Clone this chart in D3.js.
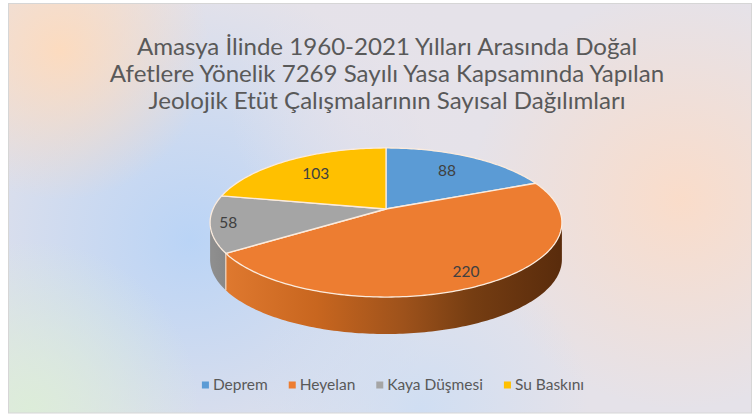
<!DOCTYPE html>
<html><head><meta charset="utf-8">
<script src="https://cdn.jsdelivr.net/npm/d3@7"></script>
<style>html,body{margin:0;padding:0;background:#fff;}svg{display:block;}</style>
</head><body>
<svg id="c" width="752" height="416"></svg>
<script>
// ---- data ----
const categories = ["Deprem", "Heyelan", "Kaya Düşmesi", "Su Baskını"];
const values = [88, 220, 58, 103];
const colors = ["#5B9BD5", "#ED7D31", "#A5A5A5", "#FFC000"];
const titleLines = [
  "Amasya İlinde 1960-2021 Yılları Arasında Doğal",
  "Afetlere Yönelik 7269 Sayılı Yasa Kapsamında Yapılan",
  "Jeolojik Etüt Çalışmalarının Sayısal Dağılımları"
];
const labelRadius = [0.7, 0.85, 0.9, 0.7];

// ---- layout ----
const W = 752, H = 416;
const svg = d3.select("#c");
const defs = svg.append("defs");
const FONT = "Lato, 'Open Sans', sans-serif";

// background
svg.append("rect").attr("x", 0).attr("y", 0).attr("width", W).attr("height", H).attr("fill", "#ffffff");
const bgClip = defs.append("clipPath").attr("id", "bgclip");
bgClip.append("rect").attr("x", 8).attr("y", 3).attr("width", W - 8).attr("height", 410);
const bg = svg.append("g").attr("clip-path", "url(#bgclip)");
bg.append("rect").attr("x", 8).attr("y", 3).attr("width", W - 8).attr("height", 410).attr("fill", "#E5E2E9");
const blobs = [
  {id: "b1", cx: 190, cy: 240, r: 260, c: "#BAD4F6", o: 1},
  {id: "b2", cx: 60, cy: 50, r: 150, c: "#FCDBBF", o: 1},
  {id: "b3", cx: 680, cy: 200, r: 210, c: "#FBDCC8", o: 0.95},
  {id: "b4", cx: 30, cy: 410, r: 170, c: "#DCEDD8", o: 0.95},
  {id: "b5", cx: 420, cy: 410, r: 170, c: "#CADDF5", o: 0.8},
  {id: "b6", cx: 360, cy: 110, r: 130, c: "#E6E2EA", o: 0.7}
];
blobs.forEach(b => {
  const g = defs.append("radialGradient").attr("id", b.id).attr("gradientUnits", "userSpaceOnUse")
    .attr("cx", b.cx).attr("cy", b.cy).attr("r", b.r);
  g.append("stop").attr("offset", 0).attr("stop-color", b.c).attr("stop-opacity", b.o);
  g.append("stop").attr("offset", 1).attr("stop-color", b.c).attr("stop-opacity", 0);
  bg.append("rect").attr("x", 8).attr("y", 3).attr("width", W - 8).attr("height", 410).attr("fill", `url(#${b.id})`);
});
svg.append("rect").attr("x", 8.5).attr("y", 3.5).attr("width", W - 9).attr("height", 409.5)
  .attr("fill", "none").attr("stroke", "#D6D6D6").attr("stroke-width", 1);

// title
titleLines.forEach((t, i) => {
  svg.append("text").attr("text-anchor", "middle").attr("fill", "#595959")
    .attr("font-family", FONT).attr("font-size", 22.5)
    .attr("x", 387).attr("y", 55 + i * 27).text(t);
});
svg.selectAll("text").each(function() {
  const w = this.getComputedTextLength();
  d3.select(this).attr("textLength", w * 1.07).attr("lengthAdjust", "spacingAndGlyphs");
});

// 3D pie projection
const cx = 386, cy = 209, A = 173, B = 72.1, P = 0.181, D = 37;
function proj(theta, r, dy) {
  const s = Math.sin(theta), c = Math.cos(theta);
  const w = 1 + P * r * c;
  return [cx + A * r * s / w, cy - B * r * c / w + (dy || 0)];
}
const pie = d3.pie().sort(null).value(d => d).startAngle(0).endAngle(2 * Math.PI);
const arcs = pie(values);
function rimPoints(a0, a1, dy) {
  const n = Math.max(2, Math.ceil((a1 - a0) / (Math.PI / 180)));
  return d3.range(n + 1).map(i => proj(a0 + (a1 - a0) * i / n, 1, dy));
}
const line = d3.line();

// wall gradients
const gO = defs.append("linearGradient").attr("id", "wallO").attr("gradientUnits", "userSpaceOnUse")
  .attr("x1", cx - A).attr("y1", 0).attr("x2", cx + A).attr("y2", 0);
[[0, "#E27B31"], [0.3, "#C8661F"], [0.55, "#9E521B"], [0.75, "#753D12"], [1, "#5A2C0C"]]
  .forEach(s => gO.append("stop").attr("offset", s[0]).attr("stop-color", s[1]));
const gG = defs.append("linearGradient").attr("id", "wallG").attr("gradientUnits", "userSpaceOnUse")
  .attr("x1", cx - A).attr("y1", 0).attr("x2", cx - A + 40).attr("y2", 0);
[[0, "#8E8E8E"], [1, "#7C7C7C"]].forEach(s => gG.append("stop").attr("offset", s[0]).attr("stop-color", s[1]));
const wallFill = ["#3E75A8", "url(#wallO)", "url(#wallG)", "#C29100"];

const th1 = Math.acos(-P), th2 = 2 * Math.PI - Math.acos(-P);
const walls = svg.append("g");
arcs.forEach((a, i) => {
  const s = Math.max(a.startAngle, th1), e = Math.min(a.endAngle, th2);
  if (e <= s) return;
  const top = rimPoints(s, e, 0), bot = rimPoints(s, e, D).reverse();
  walls.append("path").attr("d", line(top.concat(bot)) + "Z").attr("fill", wallFill[i]);
});
arcs.forEach(a => {
  const t = a.startAngle;
  if (t > th1 && t < th2) {
    const p0 = proj(t, 1, 0), p1 = proj(t, 1, D);
    walls.append("line").attr("x1", p0[0]).attr("y1", p0[1]).attr("x2", p1[0]).attr("y2", p1[1])
      .attr("stroke", "#F6D9C2").attr("stroke-width", 1.2);
  }
});

// top faces
const tops = svg.append("g");
arcs.forEach((a, i) => {
  const pts = [proj(0, 0, 0)].concat(rimPoints(a.startAngle, a.endAngle, 0));
  tops.append("path").attr("d", line(pts) + "Z").attr("fill", colors[i])
    .attr("stroke", "#FBEBDD").attr("stroke-width", 1.3).attr("stroke-linejoin", "round");
});

// labels
arcs.forEach((a, i) => {
  const m = (a.startAngle + a.endAngle) / 2;
  const p = proj(m, labelRadius[i], 0);
  svg.append("text").attr("x", p[0]).attr("y", p[1]).attr("dy", "0.35em").attr("text-anchor", "middle")
    .attr("font-family", FONT).attr("font-size", 15.5).attr("fill", "#404040").text(values[i]);
});

// legend
const leg = svg.append("g").attr("font-family", FONT).attr("font-size", 15.5).attr("fill", "#595959");
const items = [];
categories.forEach((c, i) => {
  const g = leg.append("g");
  g.append("rect").attr("x", 0).attr("y", -3.5).attr("width", 7).attr("height", 7).attr("fill", colors[i]);
  const t = g.append("text").attr("x", 11).attr("y", 0).attr("dy", "0.35em").text(c);
  const w = 11 + t.node().getComputedTextLength();
  items.push({g, w});
});
const gap = 21;
const total = d3.sum(items, d => d.w) + gap * (items.length - 1);
let x0 = 393 - total / 2;
items.forEach(it => { it.g.attr("transform", `translate(${x0},385)`); x0 += it.w + gap; });
</script>
</body></html>
